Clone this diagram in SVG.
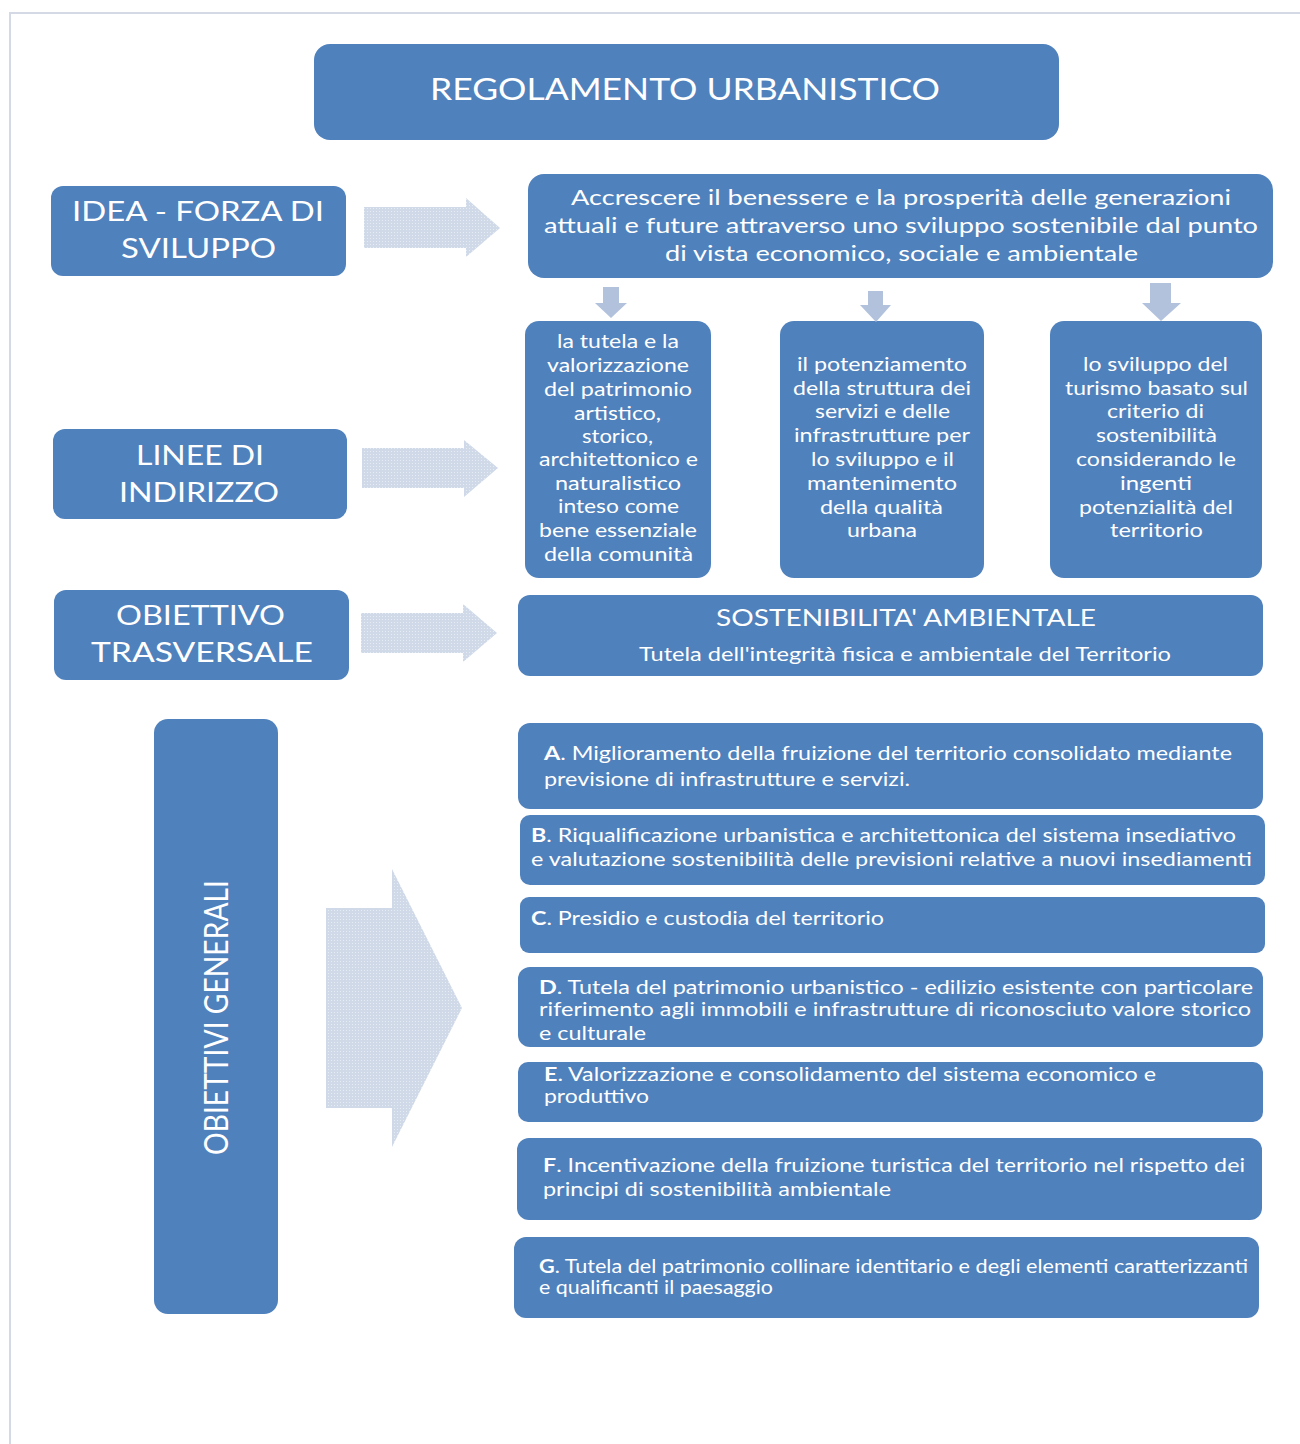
<svg xmlns="http://www.w3.org/2000/svg" width="1300" height="1444" viewBox="0 0 1300 1444">
<style>
.box{fill:#4F81BD;}
.t{fill:#FFFFFF;font-family:Lato,"Open Sans","Liberation Sans",sans-serif;}
.big{font-size:30px;}
.hd{font-size:27px;}
.md{font-size:21px;}
.sm{font-size:18.5px;}
.b{font-weight:bold;}
.blk{fill:#D3DCEA;}
.dn{fill:#B2C2DD;}
.frame{stroke:#D3DAE5;stroke-width:2;fill:none;}
</style>
<defs>
<pattern id="dots" width="3" height="3" patternUnits="userSpaceOnUse">
<rect width="3" height="3" fill="#CFD9E8"/>
<rect x="1" y="1" width="1" height="1" fill="#E6ECF4"/>
</pattern>
</defs>
<rect width="1300" height="1444" fill="#FFFFFF"/>
<path class="frame" d="M10,1444 V13 H1300"/>

<g id="title">
<rect class="box" x="314" y="44" width="745" height="96" rx="16"/>
<text class="t big" x="430" y="100" textLength="510" lengthAdjust="spacingAndGlyphs">REGOLAMENTO URBANISTICO</text>
</g>

<g id="idea">
<rect class="box" x="51" y="186" width="295" height="90" rx="12"/>
<text class="t hd" x="72" y="221" textLength="252" lengthAdjust="spacingAndGlyphs">IDEA - FORZA DI</text>
<text class="t hd" x="121" y="258" textLength="155" lengthAdjust="spacingAndGlyphs">SVILUPPO</text>
</g>

<g id="linee">
<rect class="box" x="53" y="429" width="294" height="90" rx="12"/>
<text class="t hd" x="136" y="465" textLength="128" lengthAdjust="spacingAndGlyphs">LINEE DI</text>
<text class="t hd" x="119" y="502" textLength="160" lengthAdjust="spacingAndGlyphs">INDIRIZZO</text>
</g>

<g id="obiettivo">
<rect class="box" x="54" y="590" width="295" height="90" rx="12"/>
<text class="t hd" x="116" y="625" textLength="169" lengthAdjust="spacingAndGlyphs">OBIETTIVO</text>
<text class="t hd" x="91" y="662" textLength="222" lengthAdjust="spacingAndGlyphs">TRASVERSALE</text>
</g>

<g id="obiettivi-generali">
<rect class="box" x="154" y="719" width="124" height="595" rx="14"/>
<text class="t" style="font-size:32px" transform="translate(228,1155) rotate(-90)" x="0" y="0" textLength="275" lengthAdjust="spacingAndGlyphs">OBIETTIVI GENERALI</text>
</g>

<g id="idea-forza">
<rect class="box" x="528" y="174" width="745" height="104" rx="16"/>
<text class="t md" x="571" y="205" textLength="660" lengthAdjust="spacingAndGlyphs">Accrescere il benessere e la prosperità delle generazioni</text>
<text class="t md" x="544" y="233" textLength="714" lengthAdjust="spacingAndGlyphs">attuali e future attraverso uno sviluppo sostenibile dal punto</text>
<text class="t md" x="665" y="261" textLength="473" lengthAdjust="spacingAndGlyphs">di vista economico, sociale e ambientale</text>
</g>

<g id="linea-1">
<rect class="box" x="525" y="321" width="186" height="257" rx="14"/>
<text class="t sm" x="557" y="348" textLength="122" lengthAdjust="spacingAndGlyphs">la tutela e la</text>
<text class="t sm" x="547" y="372" textLength="142" lengthAdjust="spacingAndGlyphs">valorizzazione</text>
<text class="t sm" x="544" y="396" textLength="148" lengthAdjust="spacingAndGlyphs">del patrimonio</text>
<text class="t sm" x="574" y="420" textLength="87" lengthAdjust="spacingAndGlyphs">artistico,</text>
<text class="t sm" x="582" y="443" textLength="71" lengthAdjust="spacingAndGlyphs">storico,</text>
<text class="t sm" x="539" y="466" textLength="159" lengthAdjust="spacingAndGlyphs">architettonico e</text>
<text class="t sm" x="555" y="490" textLength="126" lengthAdjust="spacingAndGlyphs">naturalistico</text>
<text class="t sm" x="558" y="513" textLength="121" lengthAdjust="spacingAndGlyphs">inteso come</text>
<text class="t sm" x="539" y="537" textLength="158" lengthAdjust="spacingAndGlyphs">bene essenziale</text>
<text class="t sm" x="544" y="561" textLength="149" lengthAdjust="spacingAndGlyphs">della comunità</text>
</g>

<g id="linea-2">
<rect class="box" x="780" y="321" width="204" height="257" rx="14"/>
<text class="t sm" x="797" y="371" textLength="170" lengthAdjust="spacingAndGlyphs">il potenziamento</text>
<text class="t sm" x="793" y="395" textLength="178" lengthAdjust="spacingAndGlyphs">della struttura dei</text>
<text class="t sm" x="815" y="418" textLength="135" lengthAdjust="spacingAndGlyphs">servizi e delle</text>
<text class="t sm" x="794" y="442" textLength="176" lengthAdjust="spacingAndGlyphs">infrastrutture per</text>
<text class="t sm" x="811" y="466" textLength="143" lengthAdjust="spacingAndGlyphs">lo sviluppo e il</text>
<text class="t sm" x="807" y="490" textLength="150" lengthAdjust="spacingAndGlyphs">mantenimento</text>
<text class="t sm" x="820" y="514" textLength="123" lengthAdjust="spacingAndGlyphs">della qualità</text>
<text class="t sm" x="847" y="537" textLength="70" lengthAdjust="spacingAndGlyphs">urbana</text>
</g>

<g id="linea-3">
<rect class="box" x="1050" y="321" width="212" height="257" rx="14"/>
<text class="t sm" x="1083" y="371" textLength="145" lengthAdjust="spacingAndGlyphs">lo sviluppo del</text>
<text class="t sm" x="1065" y="395" textLength="183" lengthAdjust="spacingAndGlyphs">turismo basato sul</text>
<text class="t sm" x="1107" y="418" textLength="97" lengthAdjust="spacingAndGlyphs">criterio di</text>
<text class="t sm" x="1096" y="442" textLength="121" lengthAdjust="spacingAndGlyphs">sostenibilità</text>
<text class="t sm" x="1076" y="466" textLength="160" lengthAdjust="spacingAndGlyphs">considerando le</text>
<text class="t sm" x="1120" y="490" textLength="72" lengthAdjust="spacingAndGlyphs">ingenti</text>
<text class="t sm" x="1079" y="514" textLength="154" lengthAdjust="spacingAndGlyphs">potenzialità del</text>
<text class="t sm" x="1110" y="537" textLength="93" lengthAdjust="spacingAndGlyphs">territorio</text>
</g>

<g id="sostenibilita">
<rect class="box" x="518" y="595" width="745" height="81" rx="12"/>
<text class="t" style="font-size:24px" x="716" y="626" textLength="380" lengthAdjust="spacingAndGlyphs">SOSTENIBILITA'  AMBIENTALE</text>
<text class="t sm" x="639" y="661" textLength="532" lengthAdjust="spacingAndGlyphs">Tutela dell'integrità fisica e ambientale del Territorio</text>
</g>

<g id="obj-a">
<rect class="box" x="518" y="723" width="745" height="86" rx="12"/>
<text class="t sm" x="544" y="760" textLength="688" lengthAdjust="spacingAndGlyphs"><tspan class="b">A</tspan>. Miglioramento della fruizione del territorio consolidato mediante</text>
<text class="t sm" x="544" y="786" textLength="366" lengthAdjust="spacingAndGlyphs">previsione di infrastrutture e servizi.</text>
</g>

<g id="obj-b">
<rect class="box" x="520" y="815" width="745" height="70" rx="10"/>
<text class="t sm" x="531" y="842" textLength="705" lengthAdjust="spacingAndGlyphs"><tspan class="b">B</tspan>. Riqualificazione urbanistica e architettonica del sistema insediativo</text>
<text class="t sm" x="531" y="866" textLength="721" lengthAdjust="spacingAndGlyphs">e valutazione sostenibilità delle previsioni relative a nuovi insediamenti</text>
</g>

<g id="obj-c">
<rect class="box" x="520" y="897" width="745" height="56" rx="9"/>
<text class="t sm" x="531" y="925" textLength="353" lengthAdjust="spacingAndGlyphs"><tspan class="b">C</tspan>. Presidio e custodia del territorio</text>
</g>

<g id="obj-d">
<rect class="box" x="518" y="967" width="745" height="80" rx="12"/>
<text class="t sm" x="539" y="994" textLength="714" lengthAdjust="spacingAndGlyphs"><tspan class="b">D</tspan>. Tutela del patrimonio urbanistico - edilizio esistente con particolare</text>
<text class="t sm" x="539" y="1016" textLength="712" lengthAdjust="spacingAndGlyphs">riferimento agli immobili e infrastrutture di riconosciuto valore storico</text>
<text class="t sm" x="539" y="1040" textLength="107" lengthAdjust="spacingAndGlyphs">e culturale</text>
</g>

<g id="obj-e">
<rect class="box" x="518" y="1062" width="745" height="60" rx="10"/>
<text class="t sm" x="544" y="1081" textLength="612" lengthAdjust="spacingAndGlyphs"><tspan class="b">E</tspan>. Valorizzazione e consolidamento del sistema economico e</text>
<text class="t sm" x="544" y="1103" textLength="105" lengthAdjust="spacingAndGlyphs">produttivo</text>
</g>

<g id="obj-f">
<rect class="box" x="517" y="1138" width="745" height="82" rx="12"/>
<text class="t sm" x="543" y="1172" textLength="702" lengthAdjust="spacingAndGlyphs"><tspan class="b">F</tspan>. Incentivazione della fruizione turistica del territorio nel rispetto dei</text>
<text class="t sm" x="543" y="1196" textLength="348" lengthAdjust="spacingAndGlyphs">principi di sostenibilità ambientale</text>
</g>

<g id="obj-g">
<rect class="box" x="514" y="1237" width="745" height="81" rx="12"/>
<text class="t sm" x="539" y="1273" textLength="709" lengthAdjust="spacingAndGlyphs"><tspan class="b">G</tspan>. Tutela del patrimonio collinare identitario e degli elementi caratterizzanti</text>
<text class="t sm" x="539" y="1294" textLength="234" lengthAdjust="spacingAndGlyphs">e qualificanti il paesaggio</text>
</g>

<g id="connectors">
<polygon fill="url(#dots)" points="364,207 466,207 466,198 500,228 466,257 466,248 364,248"/>
<polygon fill="url(#dots)" points="362,448 464,448 464,440 498,468 464,497 464,488 362,488"/>
<polygon fill="url(#dots)" points="361,613 463,613 463,604 497,633 463,662 463,653 361,653"/>
<polygon fill="url(#dots)" points="326,908 392,908 392,869 462,1008 392,1147 392,1108 326,1108"/>
<polygon class="dn" points="603,287 619,287 619,303 627,303 611,318 595,303 603,303"/>
<polygon class="dn" points="868,291 883,291 883,305 891,305 876,322 860,305 868,305"/>
<polygon class="dn" points="1150,283 1171,283 1171,303 1181,303 1161,321 1142,303 1150,303"/>
</g>
</svg>
